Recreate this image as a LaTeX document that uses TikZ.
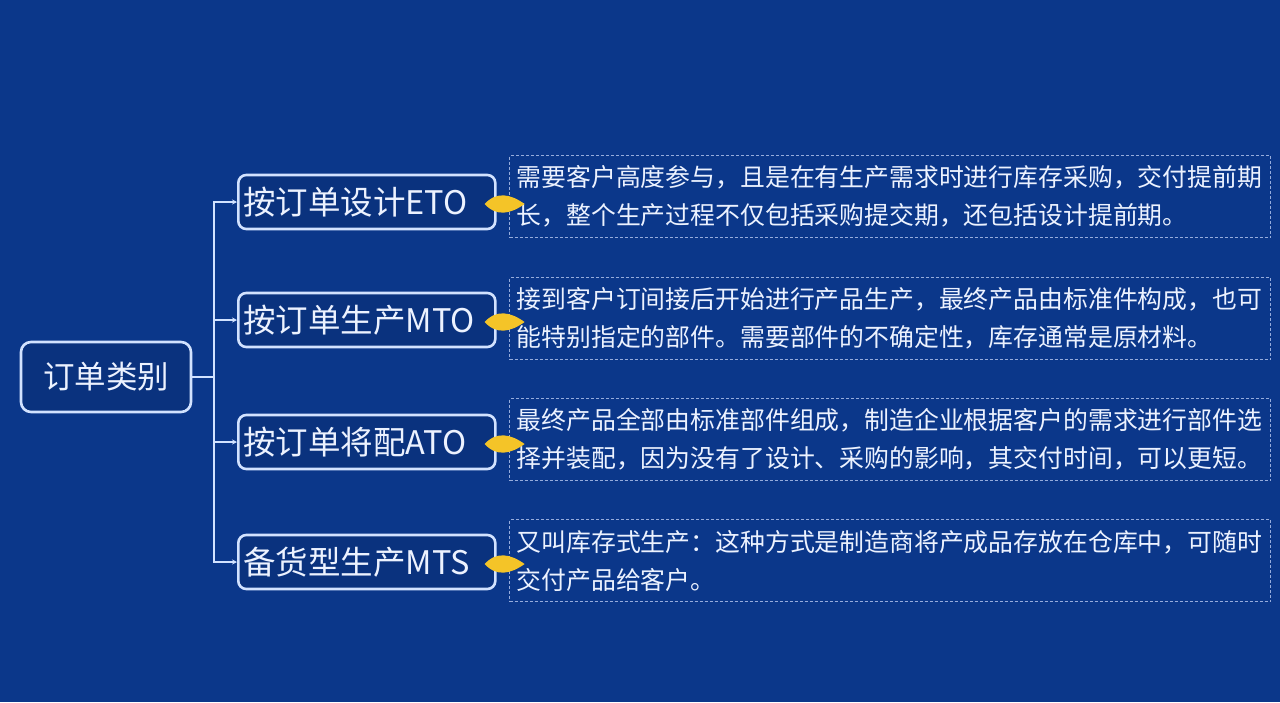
\documentclass[tikz,border=0pt]{standalone}
\usepackage{fontspec}
\newfontfamily\cjk{Noto Sans CJK SC}
\usetikzlibrary{arrows.meta}
\definecolor{bg}{RGB}{11,55,138}
\definecolor{boxfill}{RGB}{10,50,126}
\definecolor{edge}{RGB}{210,226,255}
\definecolor{dash}{RGB}{150,172,220}
\definecolor{gold}{RGB}{244,196,40}
\definecolor{txt}{RGB}{236,242,255}
\tikzset{
  rootbox/.style={draw=edge, line width=2.6pt, rounded corners=10pt, fill=boxfill,
    minimum width=170pt, minimum height=70pt, inner sep=0pt, text=txt,
    font=\cjk\fontsize{31.5}{36}\selectfont},
  catbox/.style={draw=edge, line width=2.6pt, rounded corners=8pt, fill=boxfill,
    text width=247pt, inner xsep=5pt, inner ysep=0pt, minimum height=54pt, align=left, text=txt,
    font=\cjk\fontsize{32.5}{36}\selectfont, anchor=west},
  descbox/.style={draw=dash, line width=1.3pt, dash pattern=on 3pt off 2pt,
    text width=747pt, inner xsep=7pt, inner ysep=0pt, minimum height=82pt, align=left, text=txt,
    font=\cjk\fontsize{24.85}{38}\selectfont, anchor=north west},
  link/.style={draw=edge, line width=2.4pt},
  arr/.style={link, -{Stealth[length=5pt,width=5pt]}},
  leaf/.style={fill=gold}
}
\begin{document}
\begin{tikzpicture}[x=1pt,y=-1pt]
\useasboundingbox (0,0) rectangle (1280,702);
\fill[bg] (0,0) rectangle (1280,702);

\node[rootbox] (root) at (106,377) {订单类别};
\coordinate (trunk) at (214,377);

\node[catbox] (eto) at (237,202) {按订单设计ETO};
\node[catbox] (mto) at (237,320) {按订单生产MTO};
\node[catbox] (ato) at (237,442) {按订单将配ATO};
\node[catbox] (mts) at (237,562) {备货型生产MTS};

\draw[link] (root.east) -- (trunk);
\draw[arr] (trunk) |- (eto.west);
\draw[arr] (trunk) |- (mto.west);
\draw[arr] (trunk) |- (ato.west);
\draw[arr] (trunk) |- (mts.west);

\node[descbox] (deto) at (509,155) {需要客户高度参与，且是在有生产需求时进行库存采购，交付提前期\\长，整个生产过程不仅包括采购提交期，还包括设计提前期。};
\node[descbox] (dmto) at (509,277) {接到客户订间接后开始进行产品生产，最终产品由标准件构成，也可\\能特别指定的部件。需要部件的不确定性，库存通常是原材料。};
\node[descbox] (dato) at (509,398) {最终产品全部由标准部件组成，制造企业根据客户的需求进行部件选\\择并装配，因为没有了设计、采购的影响，其交付时间，可以更短。};
\node[descbox] (dmts) at (509,519) {又叫库存式生产：这种方式是制造商将产成品存放在仓库中，可随时\\交付产品给客户。};

\foreach \n in {eto,mto,ato,mts}{
  \fill[leaf] ([xshift=-12pt,yshift=-2pt]\n.east) .. controls +(12,-13) and +(-14,-10) .. ++(40,0)
     .. controls +(-14,10) and +(12,13) .. cycle;
}
\end{tikzpicture}
\end{document}
